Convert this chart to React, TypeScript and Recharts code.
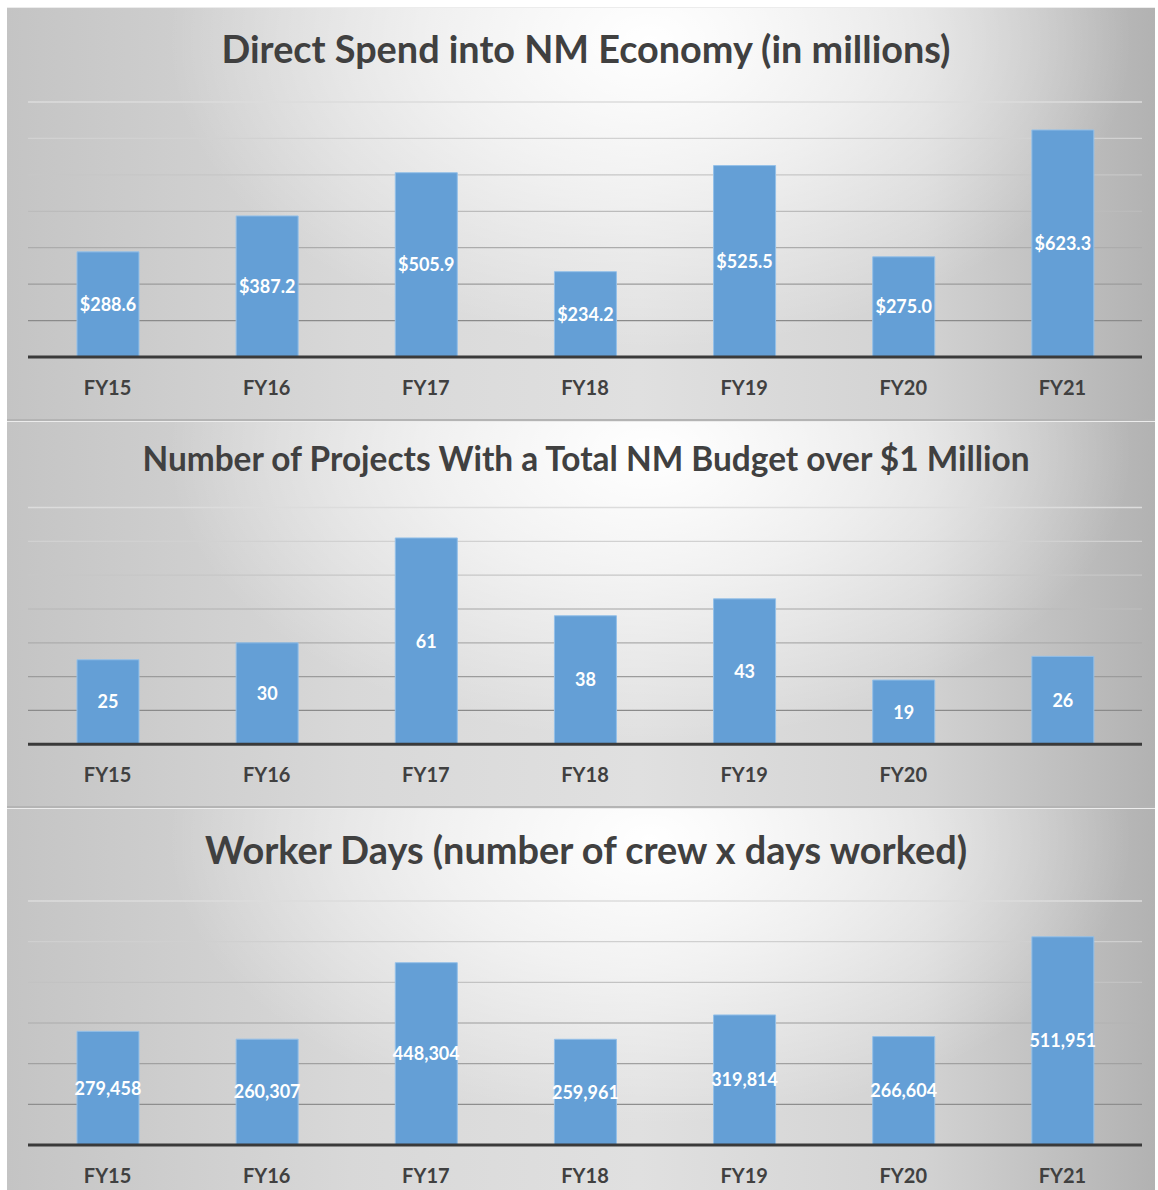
import { BarChart, Bar, XAxis, YAxis, CartesianGrid, LabelList } from "recharts";

const years = ["FY15", "FY16", "FY17", "FY18", "FY19", "FY20", "FY21"];

const spend = [288.6, 387.2, 505.9, 234.2, 525.5, 275.0, 623.3];
const spendTicks = [0, 100, 200, 300, 400, 500, 600, 700];

const projects = [25, 30, 61, 38, 43, 19, 26];
const projectTicks = [0, 10, 20, 30, 40, 50, 60, 70];
// the FY21 tick label is missing on this chart
const projectLabels = ["FY15", "FY16", "FY17", "FY18", "FY19", "FY20", ""];

const workerDays = [279458, 260307, 448304, 259961, 319814, 266604, 511951];
const workerTicks = [0, 100000, 200000, 300000, 400000, 500000, 600000];

const FONT = "Lato, 'Open Sans', sans-serif";
const BAR = "#649fd6";
const WIDTH = 1148;

const XTick = (props: any) => {
  const { x, y, payload, labels } = props;
  const text = labels ? labels[payload.index] : payload.value;
  return (
    <text x={x} y={y} dy={38} textAnchor="middle" fill="#404040" fontSize={20} fontWeight={700} fontFamily={FONT}>
      {text}
    </text>
  );
};

function Panel(props: any) {
  const { id, title, titleSize, titleY, height, top, bottom, values, ticks, format, labels } = props;
  const data = years.map((year, i) => ({ year, value: values[i] }));
  const plotBottom = height - bottom - 30;
  return (
    <div
      style={{
        position: "relative",
        width: WIDTH,
        height,
        background:
          "radial-gradient(ellipse 42% 75% at 56% 8%, rgba(255,255,255,1) 0%, rgba(255,255,255,0.6) 45%, rgba(255,255,255,0) 100%), linear-gradient(to right, #c4c4c4 0%, #d8d8d8 30%, #e0e0e0 55%, #d2d2d2 80%, #b2b2b2 100%)",
        borderTop: "1px solid #ececec",
        boxSizing: "border-box",
      }}
    >
      <div
        style={{
          position: "absolute",
          left: 0,
          width: WIDTH + 10,
          top: titleY - titleSize * 0.66,
          textAlign: "center",
          fontFamily: FONT,
          fontWeight: 700,
          fontSize: titleSize,
          lineHeight: `${titleSize * 1.24}px`,
          color: "#404040",
          whiteSpace: "nowrap",
        }}
      >
        {title}
      </div>
      <div style={{ position: "absolute", left: 0, top: -1 }}>
        <BarChart width={WIDTH} height={height} data={data} margin={{ top, right: 13, bottom, left: 21 }} barSize={62}>
          <defs>
            <linearGradient id={id} gradientUnits="userSpaceOnUse" x1={0} y1={top} x2={0} y2={plotBottom}>
              <stop offset="0%" stopColor="#dcdcdc" />
              <stop offset="45%" stopColor="#bababa" />
              <stop offset="100%" stopColor="#7a7a7a" />
            </linearGradient>
          </defs>
          <CartesianGrid vertical={false} stroke={`url(#${id})`} strokeWidth={1.3} />
          <YAxis hide domain={[ticks[0], ticks[ticks.length - 1]]} ticks={ticks} />
          <XAxis
            dataKey="year"
            height={30}
            interval={0}
            tickLine={false}
            tickSize={0}
            tickMargin={0}
            axisLine={{ stroke: "#3a3a3a", strokeWidth: 3 }}
            tick={<XTick labels={labels} />}
          />
          <Bar dataKey="value" fill={BAR} stroke="#95c0e8" strokeWidth={1} isAnimationActive={false}>
            <LabelList
              dataKey="value"
              position="center"
              formatter={format}
              fill="#ffffff"
              fontSize={18}
              fontWeight={700}
              fontFamily={FONT}
            />
          </Bar>
        </BarChart>
      </div>
    </div>
  );
}

export default function App() {
  return (
    <div style={{ position: "absolute", left: 7, top: 7, width: WIDTH, background: "#b4b4b4" }}>
      <Panel
        id="gridSpend"
        title="Direct Spend into NM Economy (in millions)"
        titleSize={37.8}
        titleY={43}
        height={412}
        top={95}
        bottom={32}
        values={spend}
        ticks={spendTicks}
        format={(v: number) => `$${v.toFixed(1)}`}
      />
      <div style={{ height: 2 }} />
      <Panel
        id="gridProjects"
        title="Number of Projects With a Total NM Budget over $1 Million"
        titleSize={33.4}
        titleY={38}
        height={385}
        top={86.5}
        bottom={31.7}
        values={projects}
        ticks={projectTicks}
        format={(v: number) => `${v}`}
        labels={projectLabels}
      />
      <div style={{ height: 2 }} />
      <Panel
        id="gridWorkers"
        title="Worker Days (number of crew x days worked)"
        titleSize={37.9}
        titleY={42}
        height={382}
        top={93}
        bottom={15}
        values={workerDays}
        ticks={workerTicks}
        format={(v: number) => v.toLocaleString("en-US")}
      />
    </div>
  );
}
